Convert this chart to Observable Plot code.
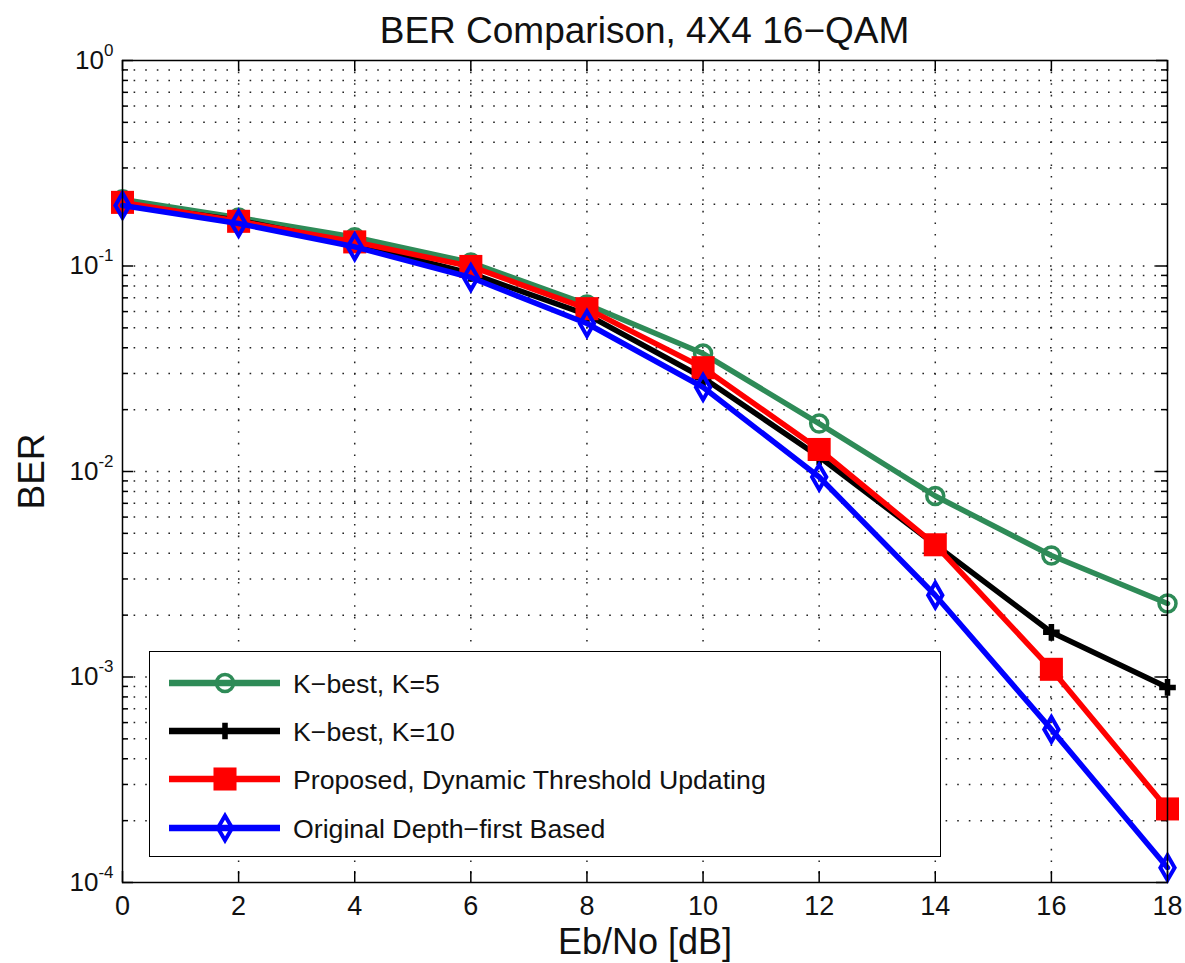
<!DOCTYPE html>
<html>
<head>
<meta charset="utf-8">
<script src="https://cdn.jsdelivr.net/npm/d3@7"></script>
<script src="https://cdn.jsdelivr.net/npm/@observablehq/plot@0.6"></script>
<style>
  html, body { margin: 0; padding: 0; background: #fff; }
  body { font-family: Arial, "Liberation Sans", sans-serif; }
  #wrap { position: relative; width: 1185px; height: 963px; overflow: hidden; }
  #title { position: absolute; left: 144px; width: 1001px; top: 12px; height: 38px;
           text-align: center; font-size: 37px; line-height: 37px; color: #111; white-space: nowrap; }
  #chart { position: absolute; left: 0; top: 50px; }
  #legend { position: absolute; left: 149px; top: 651px; width: 792px; height: 206px;
            box-sizing: border-box; border: 1.5px solid #000; background: #fff; }
  #legend svg { position: absolute; left: 0; top: 0; overflow: visible; }
</style>
</head>
<body>
<div id="wrap">
  <div id="title">BER Comparison, 4X4 16−QAM</div>
  <div id="chart"></div>
  <div id="legend"></div>
</div>
<script>
// ---- data ----
const snr = [0, 2, 4, 6, 8, 10, 12, 14, 16, 18];
const berK5 = [0.211, 0.172, 0.138, 0.104, 0.065, 0.0375, 0.0171, 0.0076, 0.0039, 0.00228];
const berK10 = [0.200, 0.167, 0.128, 0.092, 0.058, 0.0286, 0.0118, 0.0044, 0.00165, 0.00089];
const berProposed = [0.204, 0.165, 0.131, 0.0995, 0.062, 0.032, 0.0128, 0.0044, 0.00109, 0.000228];
const berDepthFirst = [0.197, 0.161, 0.124, 0.0879, 0.0525, 0.0257, 0.0094, 0.0025, 0.000556, 0.000118];

const seriesNames = ["K−best, K=5", "K−best, K=10", "Proposed, Dynamic Threshold Updating", "Original Depth−first Based"];
const seriesColors = ["#2E8B57", "#000000", "#FF0000", "#0000FF"];

const xTicks = [0, 2, 4, 6, 8, 10, 12, 14, 16, 18];
const yMajor = [1e-4, 1e-3, 1e-2, 1e-1, 1];
const yMantissa = [2, 3, 4, 5, 6, 7, 8, 9];

// ---- build ----
const seriesValues = [berK5, berK10, berProposed, berDepthFirst];
const markerStyles = [
  {symbol: "circle", r: 8.5, fill: "none", strokeWidth: 3.5},
  {symbol: "cross", r: 7, fill: "c", strokeWidth: 0},
  {symbol: "square", r: 13, fill: "c", strokeWidth: 0},
  {symbol: "diamond", r: 7.5, fill: "none", strokeWidth: 4}
];
const yMinor = [];
for (const d of yMajor.slice(0, -1)) for (const m of yMantissa) yMinor.push(d * m);

const W = 1185, H = 913;
const mL = 122, mR = 18, mT = 10, mB = 81;
const fw = W - mL - mR, fh = H - mT - mB;

const marks = [];
// grid
marks.push(Plot.ruleY(yMinor.concat(yMajor.slice(1, -1)), {stroke: "#222", strokeWidth: 1.5, strokeDasharray: "1.6,10"}));
marks.push(Plot.ruleX(xTicks.slice(1, -1), {stroke: "#222", strokeWidth: 1.5, strokeDasharray: "1.6,10"}));
// ticks (inward)
marks.push(Plot.ruleX(xTicks, {insetTop: fh - 11, stroke: "#000", strokeWidth: 1.5}));
marks.push(Plot.ruleX(xTicks, {insetBottom: fh - 11, stroke: "#000", strokeWidth: 1.5}));
marks.push(Plot.ruleY(yMajor, {insetRight: fw - 11, stroke: "#000", strokeWidth: 1.5}));
marks.push(Plot.ruleY(yMinor, {insetRight: fw - 6, stroke: "#000", strokeWidth: 1.5}));
marks.push(Plot.ruleY(yMajor, {insetLeft: fw - 11, stroke: "#000", strokeWidth: 1.5}));
marks.push(Plot.ruleY(yMinor, {insetLeft: fw - 6, stroke: "#000", strokeWidth: 1.5}));
// axes
marks.push(Plot.axisX({ticks: xTicks, tickSize: 0, tickPadding: 13, fontSize: 27, label: null, tickFormat: d => String(d)}));
marks.push(Plot.axisY({ticks: yMajor, tickSize: 0, tickPadding: 9, fontSize: 26, label: null,
  tickFormat: d => String(Math.round(Math.log10(d)))}));
// axis labels
marks.push(Plot.text(["Eb/No [dB]"], {frameAnchor: "bottom", lineAnchor: "bottom", textAnchor: "middle", dy: 71, fontSize: 36, fill: "#111"}));
marks.push(Plot.text(["BER"], {frameAnchor: "left", lineAnchor: "bottom", textAnchor: "middle", rotate: -90, dx: -79, fontSize: 37, fill: "#111"}));
// series
seriesValues.forEach((vals, k) => {
  const data = snr.map((x, i) => ({x, y: vals[i]}));
  const c = seriesColors[k];
  const ms = markerStyles[k];
  marks.push(Plot.line(data, {x: "x", y: "y", stroke: c, strokeWidth: 5.5, strokeLinejoin: "round"}));
  marks.push(Plot.dot(data, {x: "x", y: "y", symbol: ms.symbol, r: ms.r,
    fill: ms.fill === "c" ? c : "none", stroke: ms.fill === "c" ? "none" : c, strokeWidth: ms.strokeWidth}));
});
marks.push(Plot.frame({stroke: "#000", strokeWidth: 1.5}));

const chart = Plot.plot({
  width: W, height: H,
  marginLeft: mL, marginRight: mR, marginTop: mT, marginBottom: mB,
  style: {fontFamily: "Arial, 'Liberation Sans', sans-serif", color: "#111", background: "#fff", overflow: "visible"},
  x: {domain: [0, 18]},
  y: {type: "log", domain: [1e-4, 1]},
  marks
});
document.getElementById("chart").appendChild(chart);

// superscript exponents on y tick labels
d3.select(chart).selectAll('g[aria-label="y-axis tick label"] text').each(function () {
  const t = d3.select(this);
  const e = t.text();
  t.text(null);
  t.append("tspan").text("10");
  t.append("tspan").attr("font-size", 17).attr("dy", -13).text(e);
});

// ---- legend ----
const symbolTypes = {circle: d3.symbolCircle, cross: d3.symbolCross, square: d3.symbolSquare, diamond: d3.symbolDiamond};
const rowY = [31, 79, 127, 176];
const lsvg = d3.select("#legend").append("svg").attr("width", 790).attr("height", 204);
seriesNames.forEach((name, k) => {
  const c = seriesColors[k];
  const ms = markerStyles[k];
  const g = lsvg.append("g").attr("transform", `translate(0,${rowY[k]})`);
  g.append("line").attr("x1", 19).attr("x2", 130).attr("y1", 0).attr("y2", 0)
    .attr("stroke", c).attr("stroke-width", 6.5);
  g.append("path").attr("transform", "translate(75,0)")
    .attr("d", d3.symbol(symbolTypes[ms.symbol], Math.PI * ms.r * ms.r)())
    .attr("fill", ms.fill === "c" ? c : "none")
    .attr("stroke", ms.fill === "c" ? "none" : c).attr("stroke-width", ms.strokeWidth);
  g.append("text").attr("x", 143).attr("y", 9.5).attr("font-size", 26.7).attr("fill", "#111")
    .attr("font-family", "Arial, 'Liberation Sans', sans-serif").text(name);
});
</script>
</body>
</html>
